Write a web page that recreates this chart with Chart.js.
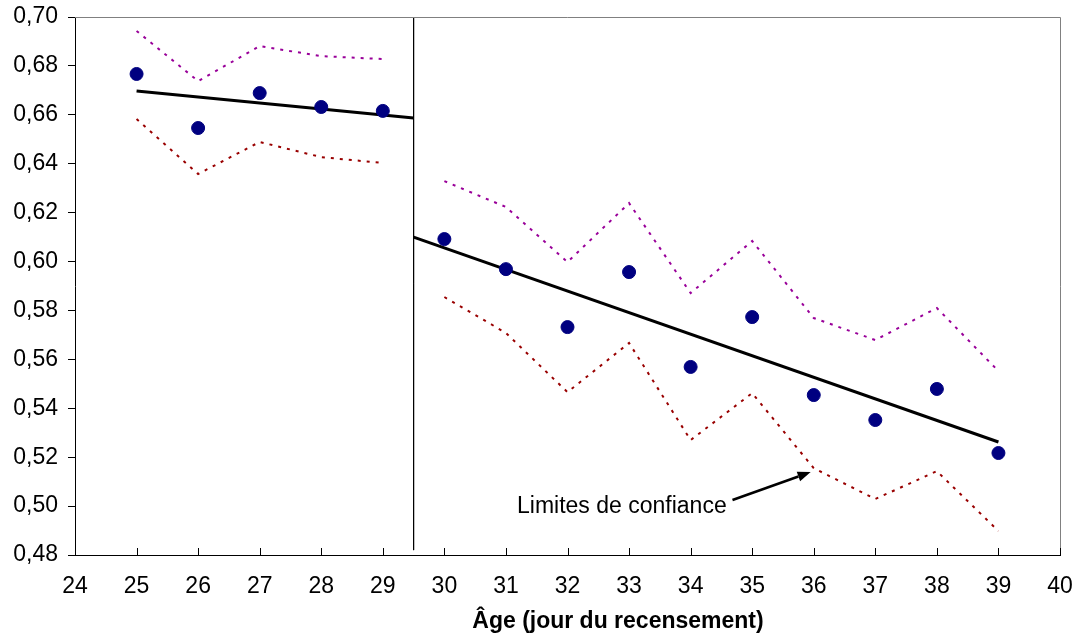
<!DOCTYPE html>
<html>
<head>
<meta charset="utf-8">
<script src="https://cdn.jsdelivr.net/npm/chart.js@4"></script>
<style>
  html, body { margin: 0; padding: 0; background: #fff; }
  #wrap { width: 1078px; height: 639px; }
</style>
</head>
<body>
<div id="wrap"><canvas id="chart"></canvas></div>
<script>
// observed values (age in days -> proportion)
const ages = [25, 26, 27, 28, 29, 30, 31, 32, 33, 34, 35, 36, 37, 38, 39];
const observed = [0.6767, 0.6546, 0.6689, 0.6632, 0.6616, 0.6092, 0.5969, 0.5732,
  0.5957, 0.5569, 0.5773, 0.5454, 0.5352, 0.5479, 0.5217];

// confidence limits, first period (25-29)
const agesA = [25, 26, 27, 28, 29];
const upperA = [0.6943, 0.6738, 0.6881, 0.6840, 0.6828];
const lowerA = [0.6583, 0.6358, 0.6489, 0.6427, 0.6403];

// confidence limits, second period (30-39)
const agesB = [30, 31, 32, 33, 34, 35, 36, 37, 38, 39];
const upperB = [0.6329, 0.6223, 0.5998, 0.6239, 0.5871, 0.6084, 0.5769, 0.5679, 0.5810, 0.5552];
const lowerB = [0.5855, 0.5708, 0.5466, 0.5667, 0.5270, 0.5462, 0.5155, 0.5029, 0.5143, 0.4898];

// fitted regression lines (end points)
const fitA = { x: [25, 29.5], y: [0.6697, 0.6587] };
const fitB = { x: [29.5, 39], y: [0.6100, 0.5262] };

// break between the two periods
const breakAge = 29.5;
const breakRange = [0.70, 0.482];

// annotation
const noteText = 'Limites de confiance';
const noteAt = { x: 31.18, y: 0.4996 };
const arrowFrom = { x: 34.68, y: 0.5025 };
const arrowTo = { x: 35.95, y: 0.5139 };

// axis title (sits a bit right of the axis centre in the original)
const axisTitle = 'Âge (jour du recensement)';
const axisTitleAt = 32.82;

const xTicks = { min: 24, max: 40, step: 1 };
const yTicks = { min: 0.48, max: 0.70, step: 0.02 };

const FONT = "'Liberation Sans', Arial, sans-serif";
const FS = 23;

const pts = (xs, ys) => xs.map((x, i) => ({ x, y: ys[i] }));

const dotted = (data, color) => ({
  data,
  showLine: true,
  borderColor: color,
  borderWidth: 2,
  borderDash: [3, 6],
  pointRadius: 0,
  fill: false,
  tension: 0,
});

const solid = (data, width) => ({
  data,
  showLine: true,
  borderColor: '#000',
  borderWidth: width,
  pointRadius: 0,
  fill: false,
  tension: 0,
});

// frame, inward x ticks, arrow, note and axis title
const extras = {
  id: 'extras',
  afterDatasetsDraw(chart) {
    const { ctx, chartArea: a, scales: { x, y } } = chart;
    ctx.save();
    ctx.strokeStyle = '#808080';
    ctx.lineWidth = 1;
    ctx.beginPath();
    ctx.moveTo(a.left, a.top + 0.5);
    ctx.lineTo(a.right + 0.5, a.top + 0.5);
    ctx.lineTo(a.right + 0.5, a.bottom);
    ctx.stroke();

    ctx.strokeStyle = '#000';
    ctx.beginPath();
    for (let v = xTicks.min; v <= xTicks.max; v += xTicks.step) {
      const px = Math.round(x.getPixelForValue(v)) + 0.5;
      ctx.moveTo(px, a.bottom);
      ctx.lineTo(px, a.bottom - 7);
    }
    ctx.stroke();

    // arrow
    const x0 = x.getPixelForValue(arrowFrom.x), y0 = y.getPixelForValue(arrowFrom.y);
    const x1 = x.getPixelForValue(arrowTo.x), y1 = y.getPixelForValue(arrowTo.y);
    const ang = Math.atan2(y1 - y0, x1 - x0);
    const len = 13, half = 5;
    const bx = x1 - len * Math.cos(ang), by = y1 - len * Math.sin(ang);
    ctx.lineWidth = 2.5;
    ctx.beginPath();
    ctx.moveTo(x0, y0);
    ctx.lineTo(bx, by);
    ctx.stroke();
    ctx.fillStyle = '#000';
    ctx.beginPath();
    ctx.moveTo(x1, y1);
    ctx.lineTo(bx + half * Math.sin(ang), by - half * Math.cos(ang));
    ctx.lineTo(bx - half * Math.sin(ang), by + half * Math.cos(ang));
    ctx.closePath();
    ctx.fill();

    ctx.font = FS + 'px ' + FONT;
    ctx.textAlign = 'left';
    ctx.textBaseline = 'middle';
    ctx.fillText(noteText, x.getPixelForValue(noteAt.x), y.getPixelForValue(noteAt.y));

    ctx.font = 'bold ' + FS + 'px ' + FONT;
    ctx.textAlign = 'center';
    ctx.fillText(axisTitle, x.getPixelForValue(axisTitleAt), x.bottom - 17);
    ctx.restore();
  },
};

new Chart(document.getElementById('chart'), {
  type: 'scatter',
  data: {
    datasets: [
      {
        data: pts(ages, observed),
        backgroundColor: '#000080',
        borderColor: '#000080',
        pointRadius: 6.5,
        pointHoverRadius: 6.5,
        showLine: false,
      },
      solid(pts(fitA.x, fitA.y), 3),
      solid(pts(fitB.x, fitB.y), 3),
      dotted(pts(agesA, upperA), '#990099'),
      dotted(pts(agesA, lowerA), '#990000'),
      dotted(pts(agesB, upperB), '#990099'),
      dotted(pts(agesB, lowerB), '#990000'),
      solid([{ x: breakAge, y: breakRange[0] }, { x: breakAge, y: breakRange[1] }], 1),
    ],
  },
  options: {
    responsive: true,
    maintainAspectRatio: false,
    animation: false,
    events: [],
    layout: { padding: { left: 0, right: 18, top: 17, bottom: 0 } },
    plugins: { legend: { display: false }, tooltip: { enabled: false } },
    scales: {
      x: {
        type: 'linear',
        min: xTicks.min,
        max: xTicks.max,
        afterFit: (s) => { s.height = 84; s.paddingLeft = 0; s.paddingRight = 0; },
        ticks: {
          stepSize: xTicks.step,
          color: '#000',
          padding: 18,
          maxRotation: 0,
          autoSkip: false,
          font: { family: FONT, size: FS },
        },
        grid: { display: true, drawOnChartArea: false, drawTicks: false },
        border: { color: '#000', width: 1 },
      },
      y: {
        min: yTicks.min,
        max: yTicks.max,
        afterFit: (s) => { s.width = 75; s.paddingTop = 0; s.paddingBottom = 0; },
        ticks: {
          stepSize: yTicks.step,
          color: '#000',
          padding: 10,
          font: { family: FONT, size: FS },
          callback: (v) => v.toFixed(2).replace('.', ','),
        },
        grid: { drawOnChartArea: false, drawTicks: true, tickLength: 7, color: '#000' },
        border: { color: '#000', width: 1 },
      },
    },
  },
  plugins: [extras],
});
</script>
</body>
</html>
